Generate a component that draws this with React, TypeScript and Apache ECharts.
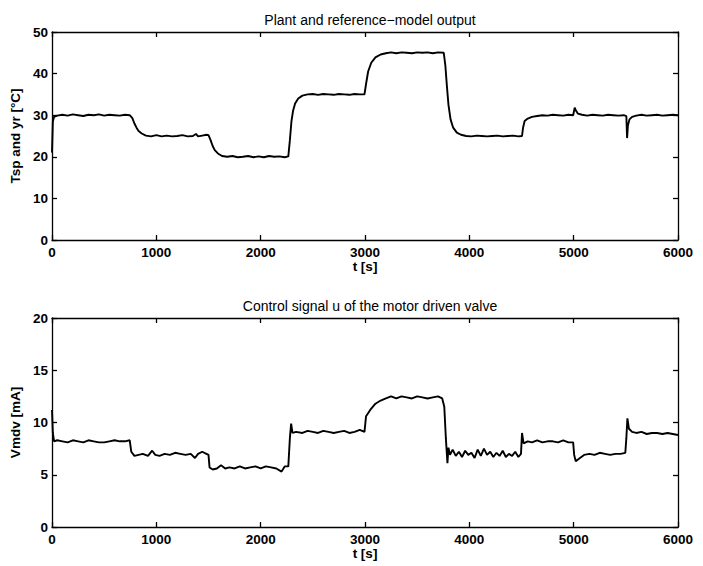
import React, { useEffect, useRef } from "react";
import * as echarts from "echarts";

const tempTime = [0, 8, 20, 50, 100, 150, 200, 250, 300, 350, 400, 450, 500, 550, 600, 650, 700, 745, 770, 790, 810, 830, 860, 900, 950, 1000, 1050, 1100, 1150, 1200, 1250, 1300, 1350, 1380, 1400, 1440, 1480, 1500, 1520, 1540, 1560, 1590, 1630, 1680, 1730, 1780, 1830, 1880, 1930, 1980, 2030, 2080, 2130, 2180, 2230, 2265, 2280, 2295, 2310, 2330, 2360, 2400, 2450, 2500, 2550, 2600, 2650, 2700, 2750, 2800, 2850, 2900, 2950, 2995, 3010, 3030, 3060, 3100, 3150, 3200, 3250, 3300, 3350, 3400, 3450, 3500, 3550, 3600, 3650, 3700, 3755, 3770, 3785, 3800, 3820, 3845, 3880, 3920, 3970, 4020, 4070, 4120, 4170, 4220, 4270, 4320, 4370, 4420, 4470, 4505, 4515, 4530, 4560, 4600, 4650, 4700, 4750, 4800, 4850, 4900, 4950, 4995, 5010, 5020, 5040, 5080, 5130, 5180, 5230, 5280, 5330, 5380, 5430, 5480, 5505, 5512, 5520, 5535, 5560, 5600, 5650, 5700, 5750, 5800, 5850, 5900, 5950, 6000];
const tempValue = [21, 28.5, 29.6, 29.9, 30.1, 29.9, 30.2, 30.0, 29.8, 30.1, 30.0, 30.2, 29.9, 30.1, 30.0, 29.9, 30.1, 30.0, 29.3, 28.0, 27.0, 26.2, 25.6, 25.1, 24.9, 25.2, 24.9, 25.1, 24.9, 25.0, 25.2, 24.9, 25.0, 25.5, 24.9, 25.1, 25.3, 25.2, 24.0, 22.6, 21.6, 20.8, 20.2, 20.0, 20.2, 19.9, 20.0, 20.2, 19.9, 20.1, 19.9, 20.2, 20.0, 20.1, 19.9, 20.1, 24.0, 28.5, 31.0, 32.8, 34.0, 34.7, 35.0, 35.1, 34.9, 35.1, 35.0, 34.9, 35.1, 35.0, 34.9, 35.1, 35.0, 35.0, 37.5, 40.5, 42.6, 43.9, 44.6, 44.9, 45.1, 44.9, 45.1, 45.0, 44.9, 45.1, 45.0, 45.1, 44.9, 45.1, 45.0, 42.0, 37.0, 32.5, 29.0, 27.0, 25.8, 25.3, 25.0, 24.9, 25.1, 25.0, 24.9, 25.0, 25.1, 24.9, 25.0, 25.1, 24.9, 25.0, 27.0, 28.6, 29.2, 29.6, 29.8, 30.0, 29.9, 30.1, 30.0, 29.9, 30.1, 30.0, 31.8, 31.2, 30.4, 30.1, 29.9, 30.1, 30.0, 29.9, 30.1, 30.0, 29.9, 30.0, 29.8, 24.5, 27.5, 29.0, 29.6, 29.9, 30.1, 29.9, 30.0, 30.1, 29.9, 30.0, 30.1, 30.0];

const ctrlTime = [0, 8, 20, 50, 100, 150, 200, 250, 300, 350, 400, 450, 500, 550, 600, 650, 700, 745, 760, 790, 830, 870, 920, 960, 990, 1030, 1080, 1130, 1180, 1230, 1280, 1330, 1370, 1400, 1440, 1480, 1500, 1510, 1540, 1580, 1620, 1660, 1700, 1750, 1800, 1850, 1900, 1950, 2000, 2050, 2100, 2150, 2200, 2230, 2265, 2280, 2292, 2305, 2340, 2400, 2450, 2500, 2550, 2600, 2650, 2700, 2750, 2800, 2850, 2900, 2950, 2995, 3010, 3050, 3100, 3150, 3200, 3250, 3300, 3350, 3400, 3450, 3500, 3550, 3600, 3650, 3700, 3740, 3760, 3775, 3790, 3800, 3815, 3840, 3870, 3900, 3930, 3960, 3990, 4020, 4050, 4080, 4110, 4140, 4170, 4200, 4230, 4260, 4290, 4320, 4350, 4380, 4410, 4440, 4470, 4495, 4505, 4520, 4560, 4600, 4650, 4700, 4750, 4800, 4850, 4900, 4950, 4995, 5005, 5020, 5060, 5100, 5150, 5200, 5250, 5300, 5350, 5400, 5450, 5495, 5505, 5515, 5530, 5560, 5600, 5650, 5700, 5750, 5800, 5850, 5900, 5950, 6000];
const ctrlValue = [11.2, 9.0, 8.2, 8.3, 8.2, 8.1, 8.3, 8.2, 8.1, 8.3, 8.2, 8.1, 8.1, 8.2, 8.3, 8.2, 8.2, 8.3, 7.2, 6.8, 6.9, 7.0, 6.8, 7.3, 6.9, 6.8, 7.0, 6.9, 7.1, 7.0, 6.9, 7.0, 6.6, 7.0, 7.2, 7.0, 6.9, 5.7, 5.5, 5.6, 5.9, 5.6, 5.7, 5.6, 5.8, 5.6, 5.7, 5.8, 5.6, 5.8, 5.7, 5.6, 5.3, 5.8, 5.8, 8.5, 9.9, 9.0, 9.1, 9.0, 9.2, 9.1, 9.0, 9.2, 9.1, 9.0, 9.1, 9.2, 9.0, 9.1, 9.3, 9.1, 10.6, 11.2, 11.8, 12.1, 12.3, 12.5, 12.3, 12.5, 12.4, 12.3, 12.5, 12.4, 12.3, 12.4, 12.5, 12.3, 11.5, 8.5, 6.1, 7.6, 6.9, 7.4, 6.8, 7.2, 6.7, 7.3, 6.9, 7.1, 6.6, 7.4, 6.8, 7.5, 6.9, 7.2, 6.7, 7.1, 6.8, 7.3, 6.7, 7.0, 6.8, 7.2, 6.7, 7.0, 9.0, 8.0, 8.2, 8.1, 8.3, 8.1, 8.2, 8.2, 8.1, 8.3, 8.1, 8.1, 6.9, 6.3, 6.6, 6.9, 7.0, 6.9, 7.1, 7.0, 6.9, 7.0, 7.0, 7.1, 8.5, 10.4, 9.4, 9.1, 9.0, 9.1, 8.9, 9.0, 9.0, 8.9, 9.0, 8.9, 8.8];

const titles = ["Plant and reference\u2212model output", "Control signal u of the motor driven valve"];
const yNames = ["Tsp and yr [\u00b0C]", "Vmdv [mA]"];
const xName = "t [s]";

const FONT = "'Liberation Sans', Arial, Helvetica, sans-serif";

export default function App() {
  const ref = useRef<HTMLDivElement>(null);
  useEffect(() => {
    if (!ref.current) return;
    const chart = echarts.init(ref.current, null, { renderer: "svg" });
    const tempData = tempTime.map((t, i) => [t, tempValue[i]]);
    const ctrlData = ctrlTime.map((t, i) => [t, ctrlValue[i]]);
    const grids = [
      { left: 52, right: 25, top: 32, height: 208 },
      { left: 52, right: 25, top: 318, height: 209 },
    ];
    const axisLine = { show: true, onZero: false, lineStyle: { color: "#000", width: 1.3 } };
    const tick = { show: true, inside: true, length: 5, lineStyle: { color: "#000", width: 1.3 } };
    const labelStyle = { color: "#000", fontSize: 13.5, fontWeight: "bold" as const, fontFamily: FONT, formatter: (v: number) => String(v) };
    const nameStyle = { color: "#000", fontSize: 13.5, fontWeight: "bold" as const, fontFamily: FONT };
    const xAxes: any[] = [];
    const yAxes: any[] = [];
    const yRanges = [
      { max: 50, interval: 10 },
      { max: 20, interval: 5 },
    ];
    [0, 1].forEach((g) => {
      xAxes.push({
        type: "value", gridIndex: g, min: 0, max: 6000, interval: 1000, position: "bottom",
        axisLine, axisTick: tick, splitLine: { show: false },
        axisLabel: { ...labelStyle, margin: 5 },
        name: xName, nameLocation: "middle", nameGap: 17, nameTextStyle: nameStyle,
      });
      xAxes.push({
        type: "value", gridIndex: g, min: 0, max: 6000, interval: 1000, position: "top",
        axisLine, axisTick: tick, splitLine: { show: false }, axisLabel: { show: false },
      });
      yAxes.push({
        type: "value", gridIndex: g, min: 0, max: yRanges[g].max, interval: yRanges[g].interval, position: "left",
        axisLine, axisTick: tick, splitLine: { show: false },
        axisLabel: { ...labelStyle, margin: 4 },
        name: yNames[g], nameLocation: "middle", nameGap: 21, nameRotate: 90, nameTextStyle: nameStyle,
      });
      yAxes.push({
        type: "value", gridIndex: g, min: 0, max: yRanges[g].max, interval: yRanges[g].interval, position: "right",
        axisLine, axisTick: tick, splitLine: { show: false }, axisLabel: { show: false },
      });
    });
    const titleStyle = { fontSize: 14, fontWeight: "normal" as const, color: "#000", fontFamily: FONT };
    chart.setOption({
      animation: false,
      backgroundColor: "#fff",
      title: [
        { text: titles[0], left: 365, top: 8, textAlign: "center", textStyle: titleStyle },
        { text: titles[1], left: 365, top: 294, textAlign: "center", textStyle: titleStyle },
      ],
      grid: grids,
      xAxis: xAxes,
      yAxis: yAxes,
      series: [
        { type: "line", xAxisIndex: 0, yAxisIndex: 0, data: tempData, showSymbol: false, symbol: "none", lineStyle: { color: "#000", width: 1.9 } },
        { type: "line", xAxisIndex: 2, yAxisIndex: 2, data: ctrlData, showSymbol: false, symbol: "none", lineStyle: { color: "#000", width: 1.9 } },
      ],
    });
    return () => chart.dispose();
  }, []);
  return <div ref={ref} style={{ position: "absolute", left: 0, top: 0, width: 703, height: 566 }} />;
}
